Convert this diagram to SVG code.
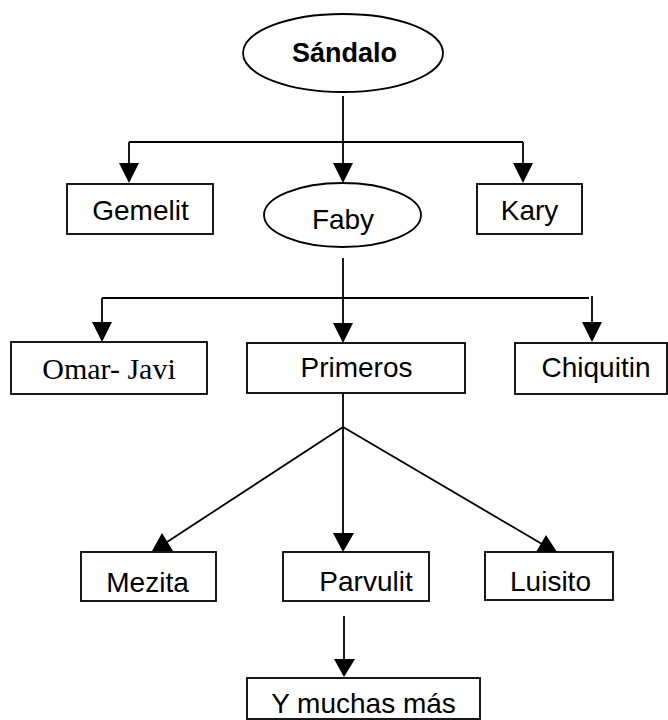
<svg xmlns="http://www.w3.org/2000/svg" width="668" height="720" viewBox="0 0 668 720">
<style>
.box{fill:#fff;stroke:#000;stroke-width:1.8}
.t{font-family:"Liberation Sans",Arial,sans-serif;font-size:28px;fill:#000;text-anchor:middle}
.b{font-weight:bold;font-size:27px}
.serif{font-family:"Liberation Serif","Times New Roman",serif;font-size:30px}
.ln{fill:none;stroke:#000;stroke-width:1.8}
.ah{fill:#000;stroke:none}
</style>
<rect width="668" height="720" fill="#fff"/>
<g id="connectors">
<path class="ln" d="M343,96 V165"/>
<path class="ln" d="M129,142 H523"/>
<path class="ln" d="M129,142 V165"/>
<path class="ln" d="M523,142 V165"/>
<polygon class="ah" points="119,163 139,163 129,183"/>
<polygon class="ah" points="333,163 353,163 343,183"/>
<polygon class="ah" points="513,163 533,163 523,183"/>
<path class="ln" d="M343,258 V325"/>
<path class="ln" d="M102,298 H589"/>
<path class="ln" d="M102,298 V324"/>
<path class="ln" d="M592,296 V324"/>
<polygon class="ah" points="92,322 112,322 102,342"/>
<polygon class="ah" points="333,323 353,323 343,343"/>
<polygon class="ah" points="582,322 602,322 592,342"/>
<path class="ln" d="M343,393 V427"/>
<path class="ln" d="M343,427 L167,542"/>
<path class="ln" d="M343,427 V535"/>
<path class="ln" d="M343,427 L542,544"/>
<polygon class="ah" points="152,551 173,551 162,533"/>
<polygon class="ah" points="333,533 354,533 343,552"/>
<polygon class="ah" points="536,552 557,552 546,535"/>
<path class="ln" d="M344,616 V660"/>
<polygon class="ah" points="334,659 355,659 344,677"/>
</g>
<g id="sandalo"><ellipse class="box" cx="343" cy="53" rx="100" ry="39"/><text class="t b" x="344.5" y="62">Sándalo</text></g>
<g id="gemelit"><rect class="box" x="67" y="184" width="146" height="50"/><text class="t" x="140.5" y="220">Gemelit</text></g>
<g id="faby"><ellipse class="box" cx="342.5" cy="215" rx="78.5" ry="32"/><text class="t" x="343" y="229">Faby</text></g>
<g id="kary"><rect class="box" x="477" y="184" width="105" height="50"/><text class="t" x="529.5" y="220">Kary</text></g>
<g id="omarjavi"><rect class="box" x="11" y="342" width="196" height="52"/><text class="t serif" x="109" y="379">Omar- Javi</text></g>
<g id="primeros"><rect class="box" x="247" y="343" width="218" height="50"/><text class="t" x="356.5" y="377">Primeros</text></g>
<g id="chiquitin"><rect class="box" x="515" y="343" width="152" height="51"/><text class="t" x="596" y="377">Chiquitin</text></g>
<g id="mezita"><rect class="box" x="81" y="552" width="135" height="49"/><text class="t" x="147.5" y="592">Mezita</text></g>
<g id="parvulit"><rect class="box" x="283" y="552" width="146" height="49"/><text class="t" x="366" y="591">Parvulit</text></g>
<g id="luisito"><rect class="box" x="485" y="552" width="128" height="48"/><text class="t" x="550.5" y="591">Luisito</text></g>
<g id="ymuchas"><rect class="box" x="247" y="678" width="233" height="41"/><text class="t" x="363.5" y="713">Y muchas más</text></g>
</svg>
